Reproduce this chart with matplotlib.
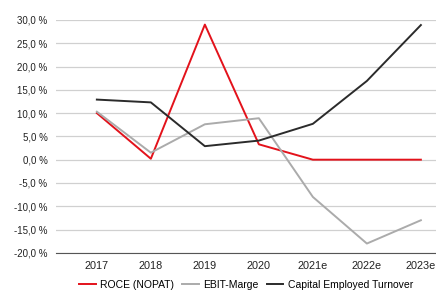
import matplotlib.pyplot as plt
from matplotlib.ticker import FuncFormatter

plt.rcParams['font.family'] = ['Liberation Sans', 'DejaVu Sans']

years = ['2017', '2018', '2019', '2020', '2021e', '2022e', '2023e']
roce = [10.0, 0.2, 29.0, 3.3, 0.0, 0.0, 0.0]
ebit_marge = [10.3, 1.5, 7.6, 8.9, -8.0, -18.0, -13.0]
cap_turnover = [12.9, 12.3, 2.9, 4.1, 7.7, 16.9, 28.9]

fig = plt.figure(figsize=(4.36, 2.93), dpi=100)
ax = fig.add_axes([0.128, 0.137, 0.872, 0.795])

x = range(len(years))
ax.plot(x, roce, color='#e3121b', lw=1.4, label='ROCE (NOPAT)')
ax.plot(x, ebit_marge, color='#ababab', lw=1.4, label='EBIT-Marge')
ax.plot(x, cap_turnover, color='#2b2b2b', lw=1.4, label='Capital Employed Turnover')

ax.set_ylim(-20, 30)
ax.set_yticks(range(-20, 31, 5))
ax.yaxis.set_major_formatter(FuncFormatter(lambda v, p: f'{v:.1f} %'.replace('.', ',')))
ax.set_xlim(-0.76, 6.28)
ax.set_xticks(list(x))
ax.set_xticklabels(years)

ax.grid(axis='y', color='#d0d0d0', lw=0.9)
ax.set_axisbelow(True)
for s in ['top', 'right', 'left']:
    ax.spines[s].set_visible(False)
ax.spines['bottom'].set_color('#555555')
ax.tick_params(length=0, labelsize=7, colors='#222222', pad=6)
ax.tick_params(axis='x', labelsize=7.8, pad=6)

ax.legend(loc='upper center', bbox_to_anchor=(0.5, -0.085), ncol=3, frameon=False,
          fontsize=7.5, handlelength=1.6, handletextpad=0.4, columnspacing=0.8,
          borderpad=0.2)

fig.savefig('out.png', dpi=100)
